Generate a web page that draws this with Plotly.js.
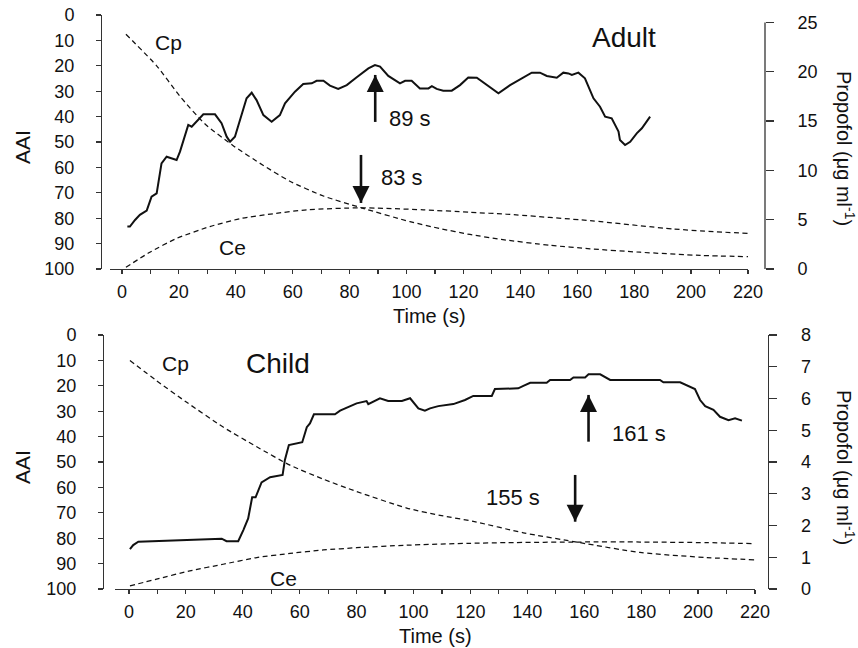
<!DOCTYPE html>
<html>
<head>
<meta charset="utf-8">
<script src="https://cdn.plot.ly/plotly-3.0.1.min.js"></script>
<style>html,body{margin:0;padding:0;background:#fff;}#chart{width:858px;height:648px;}</style>
</head>
<body>
<div id="chart"></div>
<script>
// ---------- Adult panel data ----------
const adultAaiT = [1.9, 2.8, 4.6, 6.3, 8.7, 10.4, 12.2, 13.9, 15.7, 19.2, 20.4, 23.3, 24.5, 26.2, 28.6, 32.7, 35, 36.8, 38, 39.7, 42.1, 43.8, 45.6, 47.3, 49.7, 52.6, 55.5, 57.3, 60.8, 63.7, 66.7, 68.4, 70.8, 73.1, 76, 79, 82.5, 86.6, 88.9, 90.7, 93.6, 97.7, 99.5, 101.8, 104.7, 107.7, 108.9, 110.6, 112.9, 115.9, 118.8, 121.7, 124.7, 128.2, 132.3, 136.4, 140.5, 144, 146.9, 149.3, 152.8, 155.1, 156.9, 158.1, 160.4, 162.7, 165.7, 168, 169.8, 172.1, 174.5, 175, 176.8, 178.6, 180.9, 182.7, 185.6];
const adultAai = [83.3, 83.3, 80.7, 78.7, 77, 71.5, 70.2, 58.4, 55.8, 57.1, 53.8, 43.3, 44, 42, 39.1, 39.1, 42.6, 47.9, 49.9, 47.9, 39.4, 32.8, 30.6, 33.5, 39.4, 42, 39.4, 34.8, 30.2, 27.2, 26.9, 25.9, 25.9, 27.8, 29.1, 27.6, 24.5, 21, 19.7, 20.3, 24, 26.9, 25.9, 25.9, 28.9, 28.9, 28, 29.1, 29.8, 29.8, 27.6, 24.6, 24.7, 27.6, 30.8, 27.6, 24.9, 22.7, 22.7, 24, 24.7, 22.7, 23, 23.6, 22.7, 24.9, 32.8, 36.1, 40, 40.7, 45.9, 49.2, 51.2, 49.9, 46.6, 44.6, 40];
const adultCpT = [1.4, 12.2, 20.4, 29.2, 39.1, 49.7, 59, 70.8, 84.2, 101.2, 111.8, 122.3, 133.3, 150.5, 164.5, 182.1, 203.2, 220];
const adultCp = [23.8, 20.6, 17.5, 14.7, 12.5, 10.5, 8.9, 7.4, 6.2, 4.8, 4.1, 3.5, 3.0, 2.4, 2.05, 1.7, 1.38, 1.25];
const adultCeT = [1.4, 9.8, 19.2, 30.9, 41.5, 53.2, 64.9, 84.2, 105.9, 122.3, 135.2, 164.5, 193.8, 220];
const adultCe = [0.17, 1.7, 3.1, 4.3, 5.1, 5.6, 6.0, 6.2, 6.0, 5.75, 5.55, 4.9, 4.05, 3.6];
const adultArrowT = [89, 84];
const adultArrowTip = [23.6, 74];
const adultArrowTail = [42.1, 55.1];
const adultArrowLabels = ["89 s", "83 s"];

// ---------- Child panel data ----------
const childAaiT = [0.35, 1.5, 3.3, 15.6, 32.6, 34.3, 38.4, 40.2, 41.9, 43.3, 44.5, 46.6, 49.6, 54, 54.8, 56.2, 58.3, 60.9, 62.5, 63.6, 65, 72.4, 74.2, 77.1, 80, 83.5, 84.1, 88.2, 91.1, 95.9, 98.8, 101.7, 104, 105.8, 108.7, 114, 118.1, 121, 127.5, 128.6, 136.8, 138.6, 141, 146.8, 148, 155, 156.2, 160.3, 161.5, 165.6, 169.1, 186.6, 187.8, 193.7, 196.6, 198.9, 200.7, 202.5, 205.4, 207.7, 210.7, 213, 215.4];
const childAai = [84.3, 82.7, 81.4, 81, 80.2, 81.2, 81.2, 76.8, 72.2, 63.9, 63.9, 58, 56, 55.1, 49.2, 43.3, 42.9, 42.2, 36.3, 34.8, 31.2, 31.2, 29.8, 28.5, 26.9, 26, 27.2, 24.9, 26, 26, 24.9, 28.9, 29.8, 28.9, 28, 27.2, 25.6, 24, 24, 21.3, 21, 20, 18.8, 18.8, 17.7, 17.7, 16.7, 16.7, 15.5, 15.5, 17.7, 17.7, 18.6, 18.6, 20.1, 21.3, 25.6, 28, 29.5, 32.2, 33.5, 32.8, 33.7];
const childCpT = [0.35, 9.7, 20.3, 33.1, 44.9, 56.6, 68.3, 80, 97.6, 109.3, 121, 138.6, 158.5, 179.6, 203.1, 220];
const childCp = [7.2, 6.56, 5.88, 5.1, 4.48, 3.9, 3.46, 3.07, 2.55, 2.32, 2.13, 1.77, 1.46, 1.15, 0.99, 0.92];
const childCeT = [0.35, 9.7, 21.4, 33.1, 44.9, 56.6, 68.3, 80, 97.6, 119.9, 132.8, 158.5, 179.6, 203.1, 219.4];
const childCe = [0.1, 0.31, 0.57, 0.78, 0.99, 1.12, 1.23, 1.3, 1.38, 1.44, 1.46, 1.48, 1.48, 1.46, 1.43];
const childArrowT = [161.5, 156.8];
const childArrowTip = [23.6, 73.5];
const childArrowTail = [42, 55.1];
const childArrowLabels = ["161 s", "155 s"];

// ---------- text ----------
const xTitle = "Time (s)";
const yLeftTitle = "AAI";
const yRightTitle = "Propofol (μg ml<sup>-1</sup>)";
const panelNames = ["Adult", "Child"];
const xTickVals = [0, 20, 40, 60, 80, 100, 120, 140, 160, 180, 200, 220];
const aaiTickVals = [0, 10, 20, 30, 40, 50, 60, 70, 80, 90, 100];
const adultPropTicks = [0, 5, 10, 15, 20, 25];
const childPropTicks = [0, 1, 2, 3, 4, 5, 6, 7, 8];

// ---------- styling / layout ----------
const W = 858, H = 648;
const px = v => v / W;
const py = v => 1 - v / H;
const INK = '#111';
const AXC = '#333';
const FONT = 'Liberation Sans, Arial, sans-serif';
const tickFont = {family: FONT, size: 18, color: INK};

const solid = {color: INK, width: 2};
const dashed = {color: INK, width: 1.25, dash: '5px,3.5px', shape: 'spline', smoothing: 0.6};

const traces = [
  {x: adultAaiT, y: adultAai, xaxis: 'x', yaxis: 'y', mode: 'lines', line: solid, name: 'AAI adult'},
  {x: adultCpT, y: adultCp, xaxis: 'x', yaxis: 'y2', mode: 'lines', line: dashed, name: 'Cp adult'},
  {x: adultCeT, y: adultCe, xaxis: 'x', yaxis: 'y2', mode: 'lines', line: dashed, name: 'Ce adult'},
  {x: childAaiT, y: childAai, xaxis: 'x2', yaxis: 'y3', mode: 'lines', line: solid, name: 'AAI child'},
  {x: childCpT, y: childCp, xaxis: 'x2', yaxis: 'y4', mode: 'lines', line: dashed, name: 'Cp child'},
  {x: childCeT, y: childCe, xaxis: 'x2', yaxis: 'y4', mode: 'lines', line: dashed, name: 'Ce child'}
];

// arrows: shaft line + arrow-head marker whose tip sits on the data point
function addArrows(ts, tips, tails, xa, ya) {
  ts.forEach((t, i) => {
    const up = tips[i] < tails[i]; // AAI axis reversed: smaller value is higher on screen
    traces.push({x: [t, t], y: [tails[i], tips[i]], xaxis: xa, yaxis: ya, mode: 'lines',
      line: {color: INK, width: 2.6}, hoverinfo: 'skip'});
    traces.push({x: [t], y: [tips[i]], xaxis: xa, yaxis: ya, mode: 'markers',
      marker: {symbol: up ? 'arrow-up' : 'arrow-down', size: 17, color: INK, line: {width: 0}},
      hoverinfo: 'skip'});
  });
}
addArrows(adultArrowT, adultArrowTip, adultArrowTail, 'x', 'y');
addArrows(childArrowT, childArrowTip, childArrowTail, 'x2', 'y3');

function xAxis(domain, range, anchor) {
  return {
    domain: domain, range: range, anchor: anchor,
    tickmode: 'array', tickvals: xTickVals,
    ticks: 'outside', ticklen: 4, tickwidth: 1.2, tickcolor: AXC,
    minor: {dtick: 10, tick0: 0, ticks: 'outside', ticklen: 4, tickwidth: 1.2, tickcolor: AXC, showgrid: false},
    showline: true, linecolor: AXC, linewidth: 1.3,
    showgrid: false, zeroline: false, tickfont: tickFont, ticklabelstandoff: 2, fixedrange: true
  };
}
function yLeft(domain, pos) {
  return {
    domain: domain, range: [100, 0], anchor: 'free', position: pos, side: 'left',
    tickmode: 'array', tickvals: aaiTickVals,
    ticks: 'outside', ticklen: 5, tickwidth: 1.2, tickcolor: AXC,
    showline: true, linecolor: AXC, linewidth: 1.3,
    showgrid: false, zeroline: false, tickfont: tickFont, ticklabelstandoff: 18, fixedrange: true
  };
}
function yRight(over, range, ticks, pos, showline) {
  return {
    overlaying: over, range: range, anchor: 'free', position: pos, side: 'right',
    tickmode: 'array', tickvals: ticks,
    ticks: 'outside', ticklen: 8, tickwidth: 1.2, tickcolor: AXC,
    showline: showline, linecolor: AXC, linewidth: 1.3,
    showgrid: false, zeroline: false, tickfont: tickFont, ticklabelstandoff: 20, fixedrange: true
  };
}

const annotations = [];
function txt(x, y, text, size, angle) {
  annotations.push({xref: 'paper', yref: 'paper', x: px(x), y: py(y), text: text, showarrow: false,
    xanchor: 'center', yanchor: 'middle', textangle: angle || 0,
    font: {family: FONT, size: size, color: INK}});
}

// panel labels / curve labels
txt(168, 43, 'Cp', 21); txt(232, 248, 'Ce', 21); txt(624, 37, panelNames[0], 28);
txt(175, 363, 'Cp', 21); txt(283, 578, 'Ce', 21); txt(278, 363, panelNames[1], 28);
// arrow labels
txt(410, 118, adultArrowLabels[0], 22); txt(402, 177, adultArrowLabels[1], 22);
txt(639, 433, childArrowLabels[0], 22); txt(513, 497, childArrowLabels[1], 22);
// axis titles
txt(429, 316, xTitle, 20); txt(435, 636, xTitle, 20);
txt(22, 147, yLeftTitle, 21, -90); txt(22, 467, yLeftTitle, 21, -90);
txt(846, 148, yRightTitle, 20, 90); txt(846, 467, yRightTitle, 20, 90);

const layout = {
  width: W, height: H, margin: {l: 0, r: 0, t: 0, b: 0},
  paper_bgcolor: '#fff', plot_bgcolor: 'rgba(0,0,0,0)', showlegend: false,
  font: {family: FONT, color: INK},
  xaxis: xAxis([px(110), px(748)], [-4.2, 220], 'y'),
  yaxis: yLeft([py(269), py(15)], px(101)),
  yaxis2: yRight('y', [0, 25.75], adultPropTicks, px(765), false),
  xaxis2: xAxis([px(115), px(755)], [-4.9, 220], 'y3'),
  yaxis3: yLeft([py(589), py(335)], px(103)),
  yaxis4: yRight('y3', [0, 8], childPropTicks, px(768), true),
  shapes: [{type: 'line', xref: 'paper', yref: 'y2', x0: px(765), x1: px(765),
            y0: adultPropTicks[0], y1: adultPropTicks[adultPropTicks.length - 1],
            line: {color: AXC, width: 1.3}}],
  annotations: annotations
};

Plotly.newPlot('chart', traces, layout, {displayModeBar: false, staticPlot: true});
</script>
</body>
</html>
